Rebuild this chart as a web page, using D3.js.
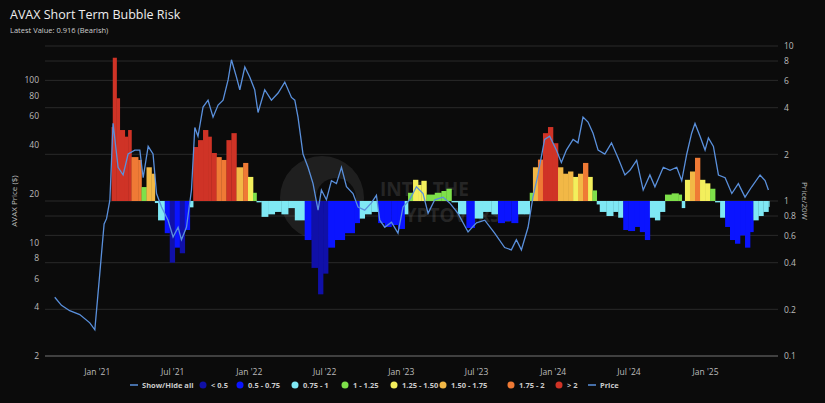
<!DOCTYPE html>
<html><head><meta charset="utf-8">
<script src="https://cdn.jsdelivr.net/npm/d3@7/dist/d3.min.js"></script>
<style>body{margin:0;background:#0b0b0b}svg{display:block;font-family:"Open Sans",sans-serif}</style>
</head><body><svg id="chart"></svg>
<script>
// price (decimal years, USD)
var priceT = [2020.724,2020.768,2020.822,2020.888,2020.954,2020.987,2021.020,2021.048,2021.064,2021.086,2021.107,2021.140,2021.173,2021.206,2021.250,2021.283,2021.305,2021.338,2021.370,2021.393,2021.426,2021.469,2021.502,2021.535,2021.557,2021.590,2021.623,2021.645,2021.666,2021.699,2021.732,2021.765,2021.798,2021.831,2021.864,2021.886,2021.919,2021.941,2021.974,2022.007,2022.039,2022.061,2022.105,2022.149,2022.193,2022.237,2022.281,2022.303,2022.324,2022.357,2022.390,2022.423,2022.456,2022.478,2022.511,2022.544,2022.577,2022.610,2022.643,2022.686,2022.719,2022.763,2022.807,2022.840,2022.862,2022.895,2022.939,2022.982,2023.015,2023.059,2023.103,2023.147,2023.180,2023.224,2023.278,2023.322,2023.377,2023.443,2023.498,2023.553,2023.618,2023.684,2023.728,2023.761,2023.794,2023.838,2023.870,2023.903,2023.947,2023.980,2024.024,2024.057,2024.090,2024.134,2024.166,2024.199,2024.232,2024.265,2024.298,2024.342,2024.386,2024.430,2024.474,2024.507,2024.551,2024.594,2024.638,2024.671,2024.726,2024.770,2024.814,2024.847,2024.880,2024.912,2024.934,2024.967,2025.000,2025.022,2025.055,2025.088,2025.132,2025.176,2025.219,2025.263,2025.307,2025.362,2025.395,2025.417];
var price = [4.6,4.1,3.8,3.6,3.2,2.9,6.5,13,14,18.2,54,29,26,35,37,37,25,39,35,20,16.5,13.7,10.8,12.4,10.4,12.4,21,51,45,68,75,59,70,75,100,133,104,87,120,104,87,63,87,75,83,97,78,75,59,35,29,23,15.8,21,18.3,24,23,29,22,20,16.5,15.8,17.5,19.5,13.7,12.4,13.3,11.4,16.5,18.3,22,20,15.1,18.3,19,17.5,15.1,11.6,13.2,13.7,11.4,9.3,9.0,10.4,9.0,12.4,19,26,43,45,37,31,37,43,41,59,55,47,37,35,41,33,26,27.8,32,21,26,22,29,27.8,29,24,35,47,54,45,37,44,39,26,25,20,23,19,22,26,24,21];
// price / 20-week MA
var ratioT = [2021.097,2021.105,2021.130,2021.151,2021.184,2021.206,2021.228,2021.272,2021.294,2021.327,2021.360,2021.382,2021.403,2021.447,2021.480,2021.513,2021.546,2021.579,2021.612,2021.634,2021.666,2021.699,2021.732,2021.755,2021.788,2021.820,2021.853,2021.886,2021.919,2021.963,2021.995,2022.028,2022.051,2022.084,2022.127,2022.171,2022.215,2022.259,2022.303,2022.368,2022.413,2022.456,2022.489,2022.522,2022.566,2022.632,2022.697,2022.730,2022.763,2022.807,2022.851,2022.895,2022.939,2022.982,2023.026,2023.048,2023.081,2023.114,2023.136,2023.169,2023.224,2023.268,2023.301,2023.334,2023.377,2023.432,2023.487,2023.541,2023.597,2023.640,2023.684,2023.728,2023.772,2023.816,2023.849,2023.870,2023.903,2023.936,2023.969,2024.002,2024.035,2024.068,2024.101,2024.134,2024.166,2024.199,2024.232,2024.261,2024.289,2024.309,2024.353,2024.397,2024.430,2024.463,2024.495,2024.539,2024.572,2024.605,2024.638,2024.671,2024.704,2024.737,2024.781,2024.826,2024.847,2024.868,2024.901,2024.934,2024.967,2025.000,2025.033,2025.066,2025.099,2025.132,2025.164,2025.197,2025.230,2025.263,2025.296,2025.318,2025.351,2025.384,2025.417];
var ratio = [3.0,8.4,4.6,2.87,2.6,2.87,1.92,1.84,1.23,1.65,1.5,0.97,0.75,0.62,0.40,0.5,0.46,0.65,0.91,2.23,2.47,2.87,2.6,2.04,1.92,1.84,2.47,2.74,1.65,1.76,1.43,1.13,0.98,0.79,0.82,0.85,0.82,0.9,0.75,0.56,0.37,0.25,0.34,0.5,0.56,0.62,0.72,0.77,0.82,0.85,0.72,0.68,0.7,0.66,0.82,1.13,1.37,1.27,1.35,1.1,1.13,1.16,1.2,0.98,0.82,0.67,0.77,0.85,0.82,0.72,0.74,0.72,0.82,0.82,1.13,1.65,1.85,2.74,3.0,2.36,1.65,1.5,1.55,1.43,1.5,1.76,1.43,1.17,0.95,0.85,0.8,0.85,0.78,0.65,0.64,0.68,0.63,0.56,0.78,0.75,0.85,1.1,1.12,1.1,0.9,1.37,1.55,1.9,1.37,1.3,1.2,0.98,0.78,0.68,0.56,0.53,0.6,0.5,0.63,0.75,0.8,0.85,0.916];

var bandLabels = ["< 0.5","0.5 - 0.75","0.75 - 1","1 - 1.25","1.25 - 1.50","1.50 - 1.75","1.75 - 2","> 2"];
var bandEdges = [0.5,0.75,1,1.25,1.5,1.75,2];
var bandColors = ["#1010a8","#0a14ff","#7fe8f4","#7ee04a","#f3ef5c","#f2b846","#ef7a35","#cf3326"];
var leftTicks = [2,4,6,8,10,20,40,60,80,100];
var rightTicks = [0.1,0.2,0.4,0.6,0.8,1,2,4,6,8,10];
var xTicks = ["2021-01-01","2021-07-01","2022-01-01","2022-07-01","2023-01-01","2023-07-01","2024-01-01","2024-07-01","2025-01-01"];

var W = 825, H = 403;
var svg = d3.select("#chart").attr("width", W).attr("height", H);

function toDate(y) {
  var yr = Math.floor(y), s = new Date(yr, 0, 1), e = new Date(yr + 1, 0, 1);
  return new Date(+s + (y - yr) * (e - s));
}

var x = d3.scaleTime().domain([toDate(2020.66), toDate(2025.48)]).range([45, 778]);
var yP = d3.scaleLog().domain([2, 164]).range([356, 45]);
var yR = d3.scaleLog().domain([0.1, 10]).range([356, 46]);

// grid
svg.append("g").selectAll("line").data(rightTicks).join("line")
  .attr("x1", 45).attr("x2", 778)
  .attr("y1", d => yR(d)).attr("y2", d => yR(d))
  .attr("stroke", d => d == 0.1 ? "#777" : "#2a2a2a").attr("stroke-width", 1);

// watermark
var wm = svg.append("g").attr("opacity", 0.16);
wm.append("circle").attr("cx", 322).attr("cy", 198).attr("r", 42).attr("fill", "#888");
wm.append("circle").attr("cx", 336).attr("cy", 198).attr("r", 20).attr("fill", "#0b0b0b");
wm.append("text").attr("x", 380).attr("y", 196).attr("fill", "#aaa").attr("font-size", 19).attr("font-weight", "bold").text("INTO THE");
wm.append("text").attr("x", 380).attr("y", 222).attr("fill", "#aaa").attr("font-size", 19).attr("font-weight", "bold").text("CRYPTOVERSE");

// bars
var colorOf = d3.scaleThreshold().domain(bandEdges).range(bandColors);
var bars = ratio.map((r, i) => ({t: toDate(ratioT[i]), t2: toDate(i < ratio.length - 1 ? ratioT[i + 1] : ratioT[i] + 0.006), r: r}));
svg.append("g").selectAll("rect").data(bars).join("rect")
  .attr("x", d => x(d.t))
  .attr("width", d => Math.max(1, x(d.t2) - x(d.t) + 0.3))
  .attr("y", d => Math.min(yR(d.r), yR(1)))
  .attr("height", d => Math.abs(yR(d.r) - yR(1)))
  .attr("fill", d => colorOf(d.r));

// price line
var pts = price.map((p, i) => ({t: toDate(priceT[i]), p: p}));
svg.append("path").datum(pts)
  .attr("d", d3.line().x(d => x(d.t)).y(d => yP(d.p)))
  .attr("fill", "none").attr("stroke", "#5a90dc").attr("stroke-width", 1.3);

// axes
var axL = svg.append("g").attr("transform", "translate(45,0)")
  .call(d3.axisLeft(yP).tickValues(leftTicks).tickFormat(d3.format("d")).tickSize(0).tickPadding(6));
var axR = svg.append("g").attr("transform", "translate(778,0)")
  .call(d3.axisRight(yR).tickValues(rightTicks).tickFormat(d => d).tickSize(0).tickPadding(6));
var fmt = d3.timeFormat("%b '%y");
var axB = svg.append("g").attr("transform", "translate(0,356)")
  .call(d3.axisBottom(x).tickValues(xTicks.map(d => new Date(d + "T00:00"))).tickFormat(fmt).tickSize(0).tickPadding(13));
[axL, axR, axB].forEach(a => {
  a.select(".domain").remove();
  a.selectAll("text").attr("fill", "#bbb").attr("font-size", 8.5).attr("font-family", "Open Sans, sans-serif");
});

svg.append("text").attr("transform", "translate(17,201) rotate(-90)").attr("text-anchor", "middle")
  .attr("fill", "#bbb").attr("font-size", 8).text("AVAX Price ($)");
svg.append("text").attr("transform", "translate(802,201) rotate(90)").attr("text-anchor", "middle")
  .attr("fill", "#bbb").attr("font-size", 8).text("Price/20W");

// title
svg.append("text").attr("x", 10).attr("y", 19).attr("fill", "#eee").attr("font-size", 12.5).text("AVAX Short Term Bubble Risk");
svg.append("text").attr("x", 10).attr("y", 33).attr("fill", "#ccc").attr("font-size", 7.5).text("Latest Value: 0.916 (Bearish)");

// legend
var lg = svg.append("g").attr("font-size", 7.5).attr("font-weight", "bold").attr("fill", "#ccc");
var leg = [{x: 130, line: true, c: "#5a90dc", t: "Show/Hide all"}]
  .concat(bandLabels.map((t, i) => ({x: [200, 237, 292, 342, 391, 440, 508, 556][i], c: bandColors[i], t: t})))
  .concat([{x: 588, line: true, c: "#5a90dc", t: "Price"}]);
leg.forEach(d => {
  if (d.line) lg.append("line").attr("x1", d.x).attr("x2", d.x + 8).attr("y1", 385).attr("y2", 385).attr("stroke", d.c).attr("stroke-width", 1.5);
  else lg.append("circle").attr("cx", d.x + 3).attr("cy", 385).attr("r", 3.5).attr("fill", d.c);
  lg.append("text").attr("x", d.x + (d.line ? 12 : 11)).attr("y", 388).text(d.t);
});
</script></body></html>
